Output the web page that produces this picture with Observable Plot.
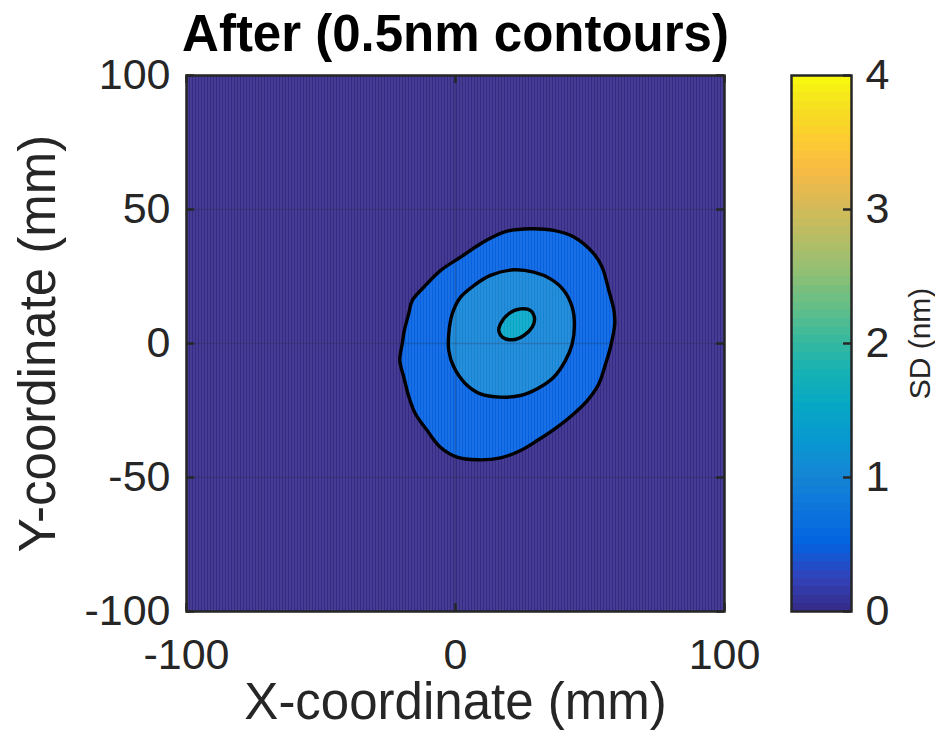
<!DOCTYPE html>
<html><head><meta charset="utf-8">
<script src="https://cdn.jsdelivr.net/npm/d3@7"></script>
<script src="https://cdn.jsdelivr.net/npm/@observablehq/plot@0.6"></script>
<style>
body{margin:0;background:#fff;}
#wrap{position:relative;width:935px;height:730px;}
#wrap svg.layer{position:absolute;left:0;top:0;}
</style></head><body>
<svg width="0" height="0" style="position:absolute">
  <defs>
    <pattern id="stripes" width="3" height="10" patternUnits="userSpaceOnUse">
      <rect x="1" y="0" width="1" height="10" fill="white" fill-opacity="0.17"></rect>
    </pattern>
  </defs>
</svg>
<div id="wrap"></div>
<script>
// ---- data ----
const titleText = "After (0.5nm contours)";
const xLabel = "X-coordinate (mm)";
const yLabel = "Y-coordinate (mm)";
const cbLabel = "SD (nm)";
const xDomain = [-100, 100];
const yDomain = [-100, 100];
const xTicks = [-100, 0, 100];
const yTicks = [-100, -50, 0, 50, 100];
const sdDomain = [0, 4];
const sdTicks = [0, 1, 2, 3, 4];
const backgroundLevel = 0;
const contourLevels = [0.5, 1.0, 1.5];
// contour rings in mm
const ring05 = [[19.2,41.9],[27.9,42.8],[36.5,42.2],[44.0,39.7],[51.4,33.5],[54.5,28.5],[57.0,19.8],[58.9,12.3],[59.2,7.3],[57.6,-1.4],[55.8,-7.6],[53.3,-15.0],[49.0,-21.3],[44.0,-26.2],[37.8,-31.2],[30.4,-36.2],[24.2,-39.9],[16.7,-42.7],[8.1,-43.4],[0.6,-42.4],[-5.6,-38.7],[-10.5,-32.5],[-14.9,-26.2],[-17.3,-20.0],[-19.2,-12.6],[-20.7,-6.3],[-19.8,-0.1],[-19.0,4.9],[-17.4,11.1],[-16.1,16.0],[-11.8,21.0],[-5.6,27.2],[1.9,32.2],[9.3,37.2],[14.2,39.9]];
const ring10 = [[13.0,25.4],[21.7,27.5],[29.1,26.6],[35.3,24.1],[40.3,19.8],[43.4,13.5],[44.2,7.3],[43.4,-0.1],[40.9,-6.3],[36.5,-12.6],[30.4,-16.9],[24.2,-19.4],[16.7,-20.0],[9.3,-18.8],[3.7,-15.0],[-0.6,-8.8],[-2.5,-2.6],[-2.5,3.6],[-1.2,11.1],[1.9,17.3],[6.8,21.6]];
const ring15 = [[16.7,7.3],[19.8,11.1],[24.2,12.9],[27.9,12.3],[29.4,9.2],[28.5,6.1],[25.4,3.0],[21.1,1.4],[17.4,2.4],[16.1,4.9]];
// parula colormap stops (MATLAB rows 1,5,...,61,64 of 64)
const parulaRows = [1,5,9,13,17,21,25,29,33,37,41,45,49,53,57,61,64];
const parulaColors = ["#352a87","#3243ba","#0363e1","#0d75dc","#1485d4","#0998d1","#06a7c6","#15b1b4","#38b99e","#65be86","#92bf73","#b7bd64","#d9ba56","#f8bb44","#fcce2e","#f5e41d","#f9fb0e"];

// ---- helpers ----
const parula = d3.scaleLinear().domain(parulaRows.map(r => (r - 1) / 63)).range(parulaColors).interpolate(d3.interpolateRgb).clamp(true);
const rings = [ring05, ring10, ring15];
const rows = rings.flatMap((ring, i) => ring.map(([x, y]) => ({level: contourLevels[i], x, y})));
const ink = "#262626";
const font = "'Liberation Sans', Arial, Helvetica, sans-serif";
const fmt = d => String(d);

const main = Plot.plot({
  className: "layer",
  width: 935, height: 730,
  marginLeft: 186, marginRight: 211, marginTop: 75, marginBottom: 119,
  x: {domain: xDomain},
  y: {domain: yDomain},
  color: {type: "linear", domain: sdDomain, interpolate: parula},
  style: {fontFamily: font, color: ink, background: "white", overflow: "visible"},
  marks: [
    Plot.frame({fill: parula((backgroundLevel - sdDomain[0]) / (sdDomain[1] - sdDomain[0]))}),
    Plot.line(rows, {x: "x", y: "y", z: "level", fill: "level", stroke: null, curve: "catmull-rom-closed"}),
    Plot.frame({fill: "url(#stripes)"}),
    Plot.gridX(xTicks, {stroke: ink, strokeOpacity: 0.2, strokeWidth: 1.5}),
    Plot.gridY(yTicks, {stroke: ink, strokeOpacity: 0.2, strokeWidth: 1.5}),
    Plot.line(rows, {x: "x", y: "y", z: "level", stroke: "black", strokeWidth: 3.4, curve: "catmull-rom-closed"}),
    Plot.tickX(xTicks, {x: d => d, insetTop: 528, stroke: ink, strokeWidth: 2.5}),
    Plot.tickX(xTicks, {x: d => d, insetBottom: 528, stroke: ink, strokeWidth: 2.5}),
    Plot.tickY(yTicks, {y: d => d, insetRight: 530, stroke: ink, strokeWidth: 2.5}),
    Plot.tickY(yTicks, {y: d => d, insetLeft: 530, stroke: ink, strokeWidth: 2.5}),
    Plot.frame({stroke: ink, strokeWidth: 2.5}),
    Plot.axisX(xTicks, {tickSize: 0, tickPadding: 27, fontSize: 43, tickFormat: fmt, label: null, fill: ink}),
    Plot.axisY(yTicks, {tickSize: 0, tickPadding: 16, fontSize: 43, tickFormat: fmt, label: null, fill: ink}),
    Plot.text([titleText], {frameAnchor: "top", dy: -25, lineAnchor: "bottom", fontSize: 51, fontWeight: "bold", fill: "black"}),
    Plot.text([xLabel], {frameAnchor: "bottom", dy: 107, lineAnchor: "bottom", fontSize: 51, fill: ink}),
    Plot.text([yLabel], {frameAnchor: "left", dx: -148, rotate: -90, textAnchor: "middle", lineAnchor: "middle", fontSize: 51, fill: ink})
  ]
});

const cbar = Plot.plot({
  className: "layer",
  width: 935, height: 730,
  marginLeft: 791, marginRight: 84, marginTop: 75, marginBottom: 119,
  x: {domain: [0, 1], axis: null},
  y: {domain: sdDomain},
  color: {type: "linear", domain: sdDomain, interpolate: parula},
  style: {fontFamily: font, color: ink, background: "transparent", overflow: "visible"},
  marks: [
    Plot.raster({x1: 0, x2: 1, y1: sdDomain[0], y2: sdDomain[1], width: 1, height: 64, fill: (x, y) => y, imageRendering: "pixelated"}),
    Plot.tickY(sdTicks, {y: d => d, insetLeft: 52, stroke: ink, strokeWidth: 2.5}),
    Plot.frame({stroke: ink, strokeWidth: 2.5}),
    Plot.axisY(sdTicks, {anchor: "right", tickSize: 0, tickPadding: 14, fontSize: 43, tickFormat: fmt, label: null, fill: ink}),
    Plot.text([cbLabel], {frameAnchor: "right", dx: 69, rotate: -90, textAnchor: "middle", lineAnchor: "middle", fontSize: 30, fill: ink})
  ]
});

const wrap = document.getElementById("wrap");
wrap.appendChild(main);
wrap.appendChild(cbar);
</script>
</body></html>
